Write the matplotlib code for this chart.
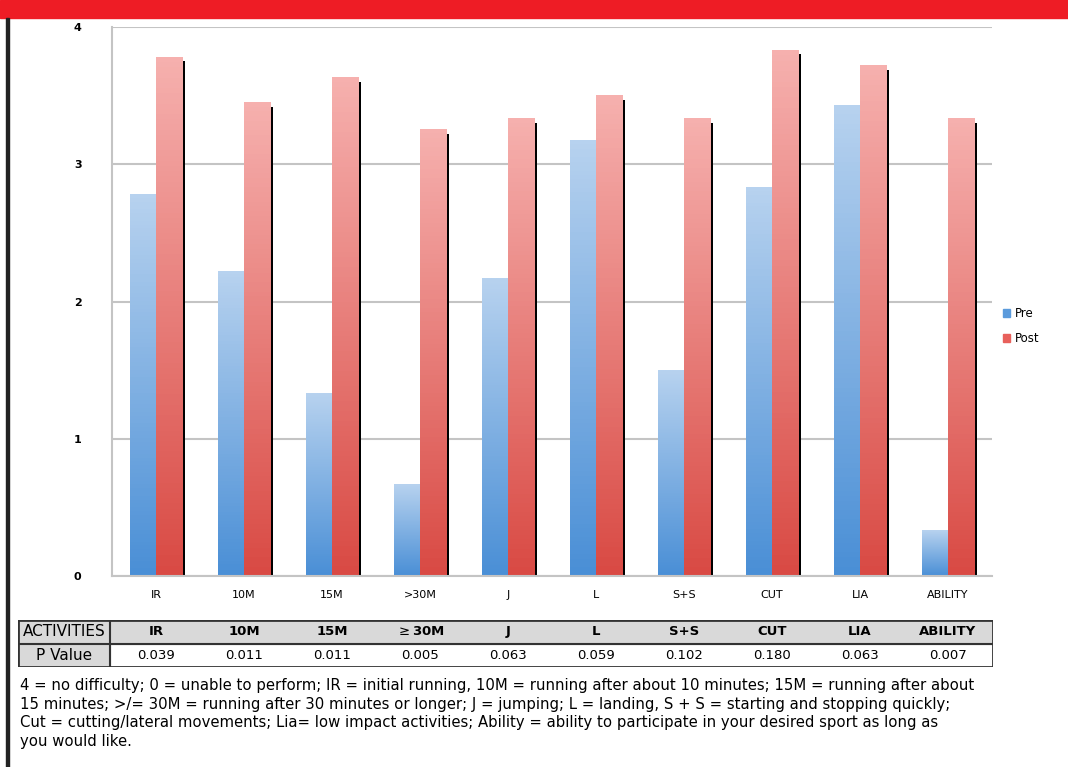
import numpy as np
import matplotlib
matplotlib.use('Agg')
import matplotlib.pyplot as plt
from matplotlib.colors import LinearSegmentedColormap
from matplotlib.patches import Patch

categories = ["IR", "10M", "15M", ">30M", "J", "L", "S+S", "CUT", "LIA", "ABILITY"]
table_labels = ["IR", "10M", "15M", "$\\geq$30M", "J", "L", "S+S", "CUT", "LIA", "ABILITY"]
pre = [2.78, 2.22, 1.33, 0.67, 2.17, 3.17, 1.50, 2.83, 3.43, 0.33]
post = [3.78, 3.45, 3.63, 3.25, 3.33, 3.50, 3.33, 3.83, 3.72, 3.33]
pvalues = ["0.039", "0.011", "0.011", "0.005", "0.063", "0.059", "0.102", "0.180", "0.063", "0.007"]
footnote = ("4 = no difficulty; 0 = unable to perform; IR = initial running, 10M = running after about 10 minutes; 15M = running after about\n"
            "15 minutes; >/= 30M = running after 30 minutes or longer; J = jumping; L = landing, S + S = starting and stopping quickly;\n"
            "Cut = cutting/lateral movements; Lia= low impact activities; Ability = ability to participate in your desired sport as long as\n"
            "you would like.")

W, H = 1068, 767
fig = plt.figure(figsize=(W / 100, H / 100), dpi=100)

# frame: red top bar, black left border
fig.patches.append(plt.Rectangle((0, 1 - 18 / H), 1, 18 / H, transform=fig.transFigure, color='#ee1c25', zorder=0))
fig.patches.append(plt.Rectangle((6 / W, 0), 3 / W, 1 - 18 / H, transform=fig.transFigure, color='#222222', zorder=0))

ax = fig.add_axes([112 / W, 1 - 576 / H, 880 / W, 549 / H])
x = np.arange(len(categories))
bw = 0.3
blue = LinearSegmentedColormap.from_list('b', ['#4a8fd6', '#b7d2ef'])
red = LinearSegmentedColormap.from_list('r', ['#d94a44', '#f6b0ae'])
grad = np.linspace(0, 1, 100).reshape(-1, 1)

for i in range(len(categories)):
    # shadow behind post bar
    ax.bar(x[i] + bw / 2 + 0.035, post[i] - 0.03, bw, color='black', zorder=1)
    for val, xc, cm in [(pre[i], x[i] - bw / 2, blue), (post[i], x[i] + bw / 2, red)]:
        ax.imshow(grad, cmap=cm, origin='lower', aspect='auto', zorder=2,
                  extent=(xc - bw / 2, xc + bw / 2, 0, val))

ax.set_xlim(-0.5, len(categories) - 0.5)
ax.set_ylim(0, 4)
ax.set_yticks([0, 1, 2, 3, 4])
ax.set_yticklabels(['0', '1', '2', '3', '4'], fontsize=8, fontweight='bold')
ax.set_xticks(x)
ax.set_xticklabels(categories, fontsize=8)
ax.tick_params(length=0)
ax.tick_params(axis='y', pad=22)
ax.tick_params(axis='x', pad=10)
ax.grid(axis='y', color='#c4c4c4', linewidth=1.5, zorder=0)
ax.set_axisbelow(True)
for s in ['top', 'right']:
    ax.spines[s].set_visible(False)
ax.spines['left'].set_color('#c4c4c4')
ax.spines['bottom'].set_color('#c4c4c4')
ax.spines['left'].set_linewidth(1.5)
ax.spines['bottom'].set_linewidth(1.5)
handles = [Patch(color='#5b9bdc', label='Pre'), Patch(color='#e8605b', label='Post')]
ax.legend(handles=handles, loc='center left', bbox_to_anchor=(1.0, 0.455), frameon=False, fontsize=8.5,
          handlelength=0.6, handleheight=0.6, handletextpad=0.4, labelspacing=1.0)

# table below the chart
tab = fig.add_axes([18 / W, 1 - 667 / H, 975 / W, 47 / H])
tab.set_xlim(0, 975)
tab.set_ylim(0, 2)
tab.axis('off')
tab.add_patch(plt.Rectangle((0, 1), 975, 1, color='#d9d9d9'))
tab.add_patch(plt.Rectangle((0, 0), 92, 1, color='#d9d9d9'))
tab.plot([0, 975, 975, 0, 0], [0, 0, 2, 2, 0], color='#333333', lw=2)
tab.plot([0, 975], [1, 1], color='#333333', lw=1.5)
tab.plot([92, 92], [0, 2], color='#333333', lw=1.5)
tab.text(46, 1.5, 'ACTIVITIES', ha='center', va='center', fontsize=11)
tab.text(46, 0.5, 'P Value', ha='center', va='center', fontsize=11)
for i in range(len(categories)):
    xc = (x[i] + 0.5) * 88 + 112 - 18
    tab.text(xc, 1.5, table_labels[i], ha='center', va='center', fontsize=9.5, fontweight='bold')
    tab.text(xc, 0.5, pvalues[i], ha='center', va='center', fontsize=9.5)

fig.text(20 / W, 1 - 678 / H, footnote, ha='left', va='top', fontsize=10.7, linespacing=1.3)

fig.savefig('out.png', dpi=100)
